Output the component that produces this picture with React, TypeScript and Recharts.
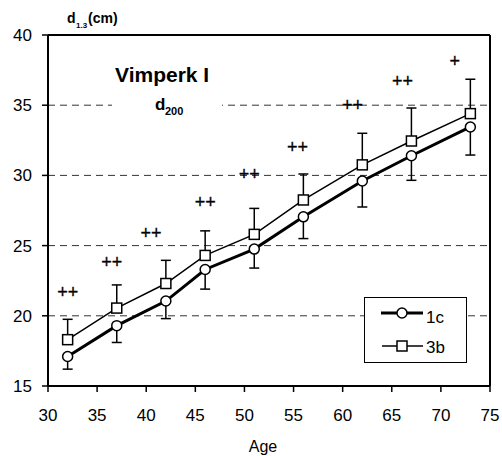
import React from 'react';
import {
  ComposedChart,
  Line,
  Scatter,
  XAxis,
  YAxis,
  CartesianGrid,
  ErrorBar,
  ReferenceLine,
  Customized,
} from 'recharts';

// stand age and mean d1.3 of the two series
const ages = [32, 37, 42, 46, 51, 56, 62, 67, 73];
const mean1c = [17.1, 19.3, 21.05, 23.3, 24.75, 27.05, 29.6, 31.4, 33.45];
const low1c = [16.2, 18.1, 19.8, 21.9, 23.4, 25.5, 27.75, 29.65, 31.45];
const mean3b = [18.3, 20.55, 22.3, 24.3, 25.8, 28.25, 30.75, 32.45, 34.4];
const high3b = [19.75, 22.2, 23.95, 26.05, 27.65, 30.1, 33.0, 34.8, 36.85];

// significance marks
const sigAges = [32, 36.5, 40.5, 46, 50.5, 55.4, 61, 66.1, 71.4];
const sigLevels = [21.7, 23.85, 25.9, 28.1, 30.1, 32.0, 35.0, 36.7, 38.15];
const sigMarks = ['++', '++', '++', '++', '++', '++', '++', '++', '+'];

const seriesNames = ['1c', '3b'];
const xTicks = [30, 35, 40, 45, 50, 55, 60, 65, 70, 75];
const yTicks = [15, 20, 25, 30, 35, 40];

const data = ages.map((age, i) => ({
  age,
  c1: mean1c[i],
  e1: [+(mean1c[i] - low1c[i]).toFixed(2), 0],
  b3: mean3b[i],
  e3: [0, +(high3b[i] - mean3b[i]).toFixed(2)],
}));

const sigData = sigAges.map((age, i) => ({ age, lvl: sigLevels[i], mark: sigMarks[i] }));

const FONT = '"Liberation Sans", Arial, sans-serif';

const SquareDot = (props: any) => {
  const { cx, cy, index } = props;
  if (cx == null || cy == null) return <g key={`sq-${index}`} />;
  return (
    <rect key={`sq-${index}`} x={cx - 5} y={cy - 5} width={10} height={10}
      fill="#fff" stroke="#000" strokeWidth={1.5} />
  );
};

const SigMark = (props: any) => (
  <text x={props.cx} y={props.cy + 6} textAnchor="middle" fontSize={18}
    fontFamily={FONT} fill="#000" stroke="#000" strokeWidth={0.3}
    style={{ fill: '#000' }}>
    {props.payload.mark}
  </text>
);

const Annotations = () => (
  <g fontFamily={FONT} fill="#000">
    <text x={67} y={23} fontSize={14} fontWeight="bold">
      d<tspan x={76} y={28} fontSize={8}>1.3</tspan>
      <tspan x={88} y={23}>(cm)</tspan>
    </text>
    <rect x={112} y={62} width={110} height={56} fill="#fff" />
    <text x={115} y={82} fontSize={21} fontWeight="bold">Vimperk I</text>
    <text x={155} y={110} fontSize={17} fontWeight="bold">
      d<tspan x={165} y={115} fontSize={11}>200</tspan>
    </text>
    <rect x={364.5} y={297.5} width={102} height={65} fill="#fff" stroke="#000" strokeWidth={1} />
    <line x1={381} x2={423} y1={313} y2={313} stroke="#000" strokeWidth={3} />
    <circle cx={402} cy={313} r={5} fill="#fff" stroke="#000" strokeWidth={1.5} />
    <text x={426} y={323} fontSize={17}>{seriesNames[0]}</text>
    <line x1={382} x2={423} y1={346} y2={346} stroke="#000" strokeWidth={1.5} />
    <rect x={397} y={341} width={10} height={10} fill="#fff" stroke="#000" strokeWidth={1.5} />
    <text x={426} y={353} fontSize={17}>{seriesNames[1]}</text>
  </g>
);

export default function App() {
  return (
    <div style={{ position: 'absolute', left: 0, top: 0, width: 502, height: 456, background: '#fff', fontFamily: FONT }}>
      <ComposedChart width={502} height={456} data={data}
        margin={{ top: 35, right: 12, bottom: 0, left: 0 }}>
        <CartesianGrid vertical={false} stroke="#333" strokeDasharray="7 5" />
        <XAxis dataKey="age" type="number" domain={[30, 75]} ticks={xTicks}
          height={70} tickSize={6} tickMargin={17}
          axisLine={{ stroke: '#000', strokeWidth: 2 }}
          tickLine={{ stroke: '#000', strokeWidth: 1.5 }}
          tick={{ fill: '#000', fontSize: 17, fontFamily: FONT }}
          label={{ value: 'Age', position: 'insideBottom', offset: 4, dx: -6, fill: '#000', fontSize: 16, fontFamily: FONT }} />
        <YAxis type="number" domain={[15, 40]} ticks={yTicks} width={48}
          tickSize={6} tickMargin={10}
          axisLine={{ stroke: '#000', strokeWidth: 2 }}
          tickLine={{ stroke: '#000', strokeWidth: 1.5 }}
          tick={{ fill: '#000', fontSize: 17, fontFamily: FONT }} />
        <ReferenceLine y={40} stroke="#000" strokeWidth={2} />
        <ReferenceLine x={75} stroke="#000" strokeWidth={2} />
        <Customized component={Annotations} />
        <Line dataKey="c1" name={seriesNames[0]} stroke="#000" strokeWidth={3}
          isAnimationActive={false}
          dot={{ r: 5, fill: '#fff', stroke: '#000', strokeWidth: 1.5 }}>
          <ErrorBar dataKey="e1" direction="y" width={5} stroke="#000" strokeWidth={1.5} />
        </Line>
        <Line dataKey="b3" name={seriesNames[1]} stroke="#000" strokeWidth={1.5}
          isAnimationActive={false} dot={SquareDot}>
          <ErrorBar dataKey="e3" direction="y" width={5} stroke="#000" strokeWidth={1.5} />
        </Line>
        <Scatter data={sigData} dataKey="lvl" isAnimationActive={false} shape={SigMark} />
      </ComposedChart>
    </div>
  );
}
